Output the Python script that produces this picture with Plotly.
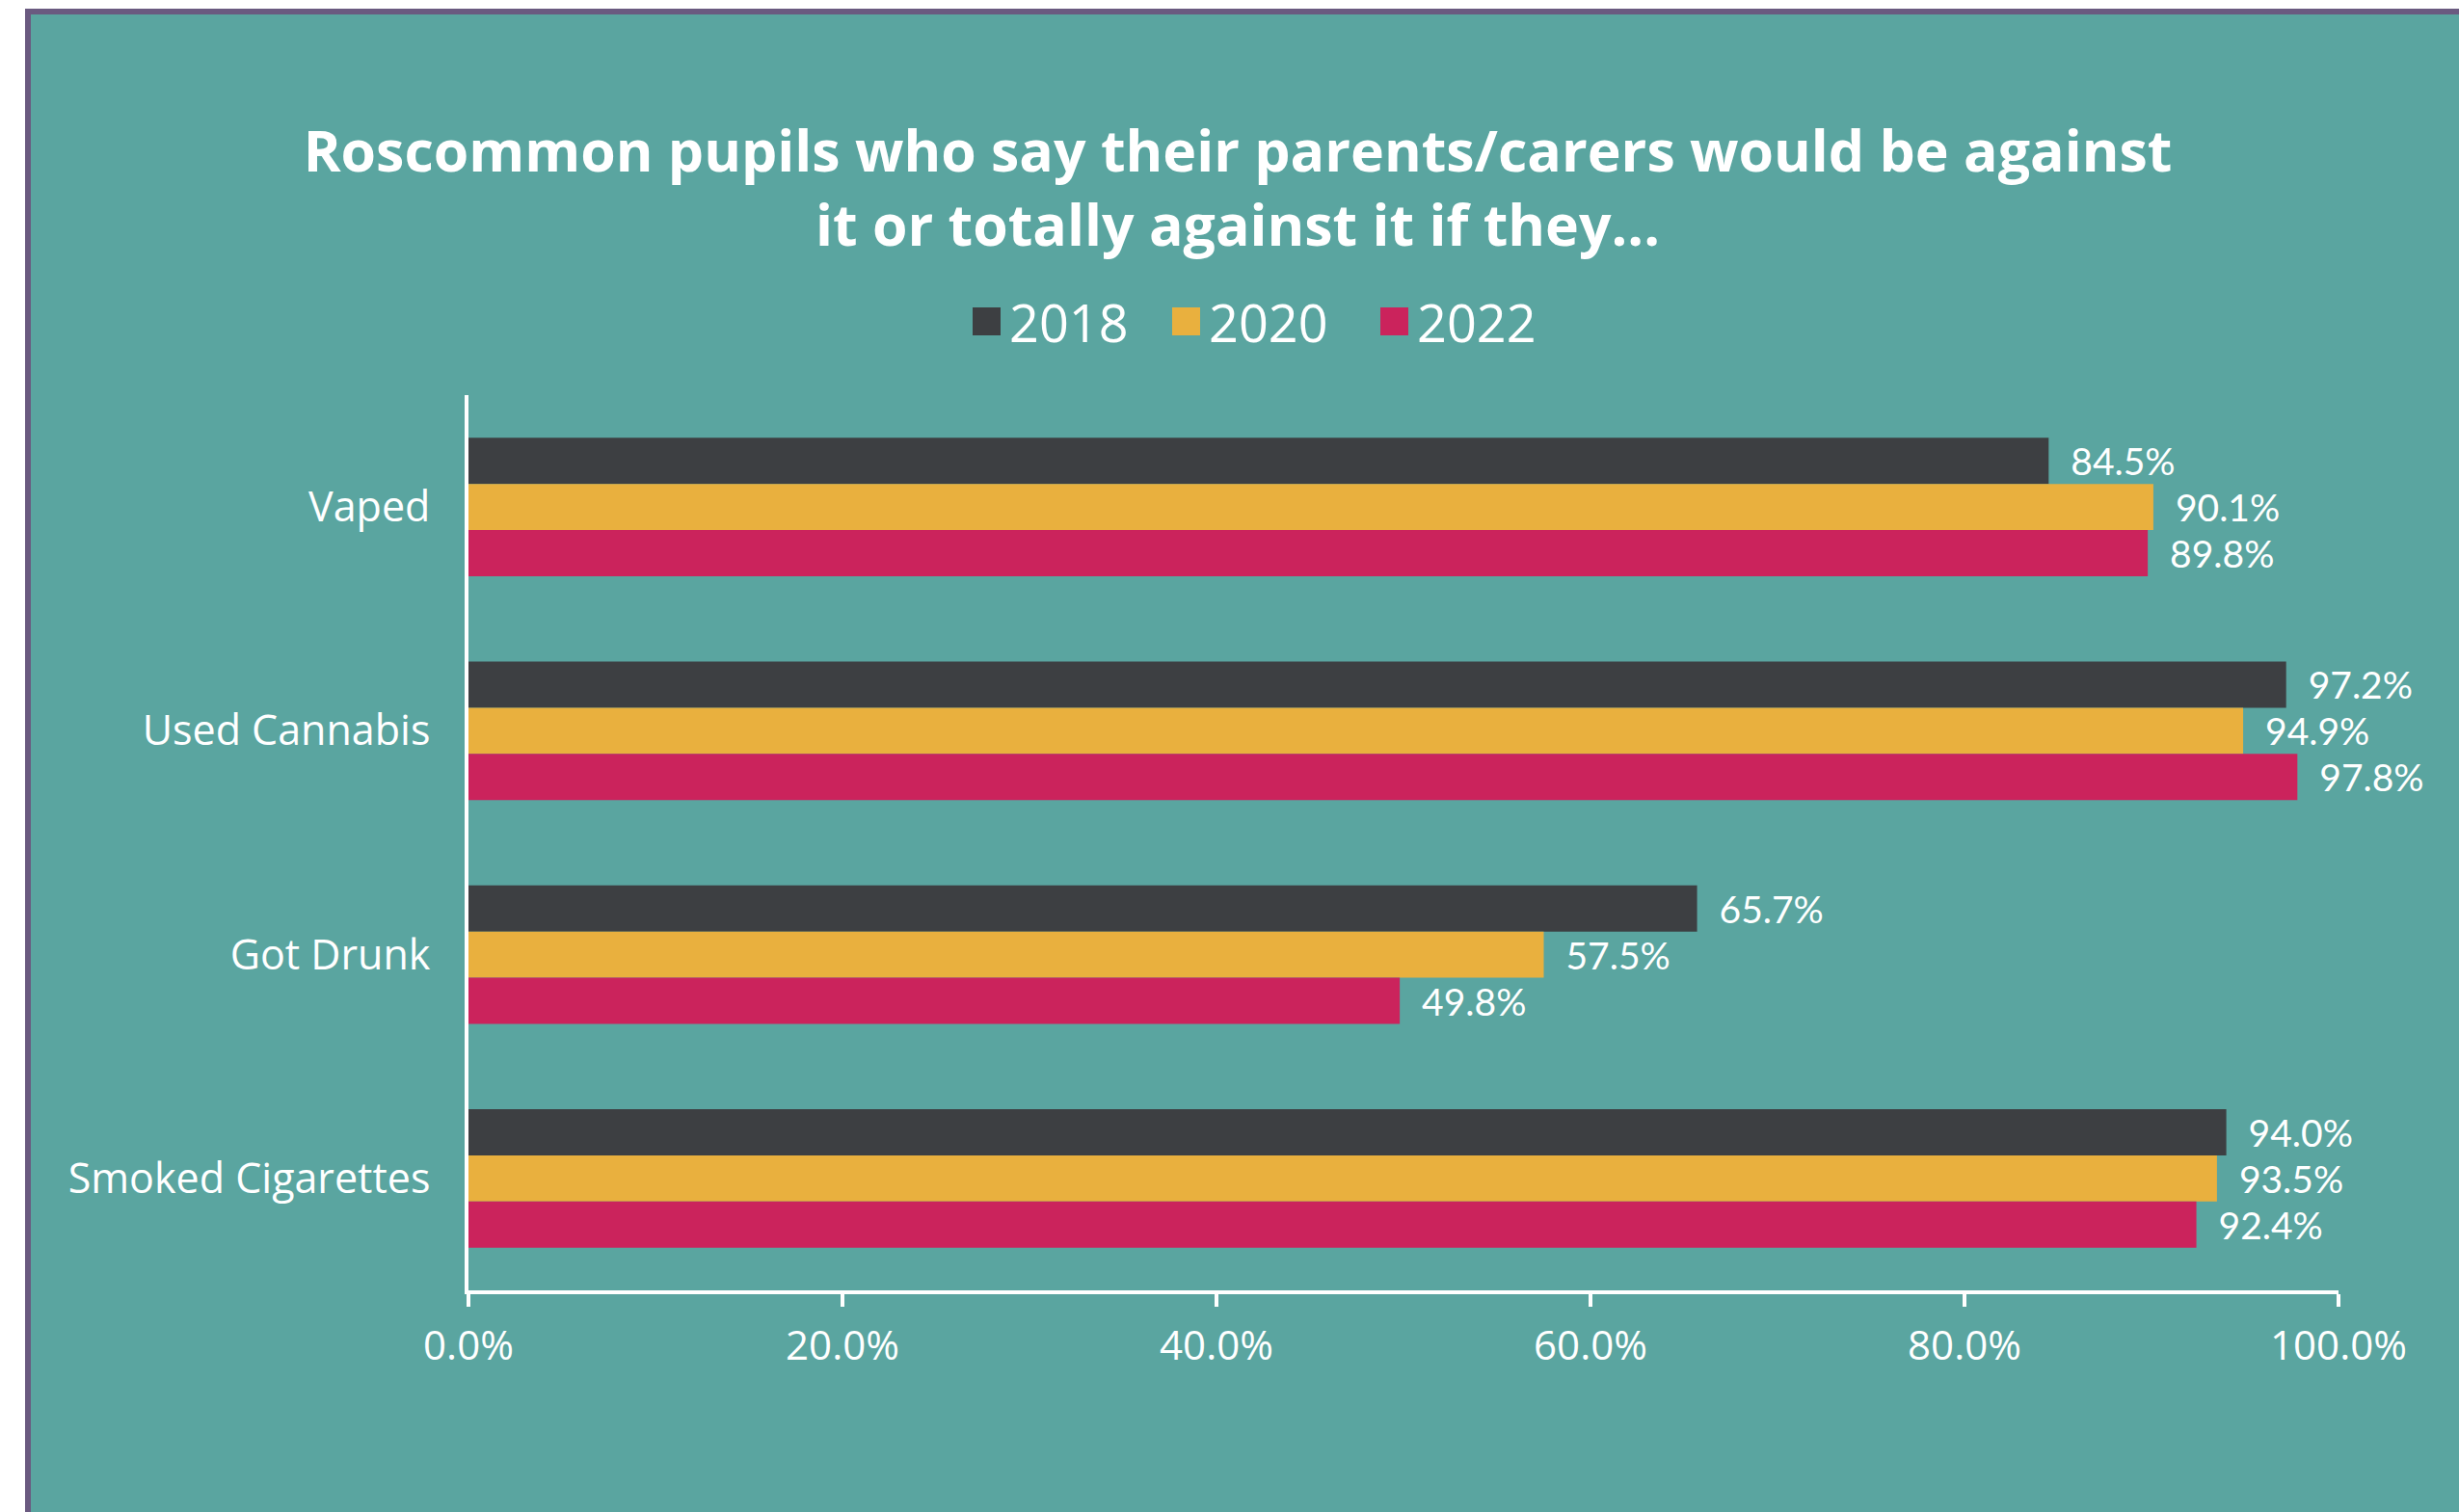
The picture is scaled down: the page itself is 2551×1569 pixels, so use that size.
import plotly.graph_objects as go

# Survey data: share of pupils whose parents/carers would be against it
categories = ["Vaped", "Used Cannabis", "Got Drunk", "Smoked Cigarettes"]
years = ["2018", "2020", "2022"]
values_2018 = [84.5, 97.2, 65.7, 94.0]
values_2020 = [90.1, 94.9, 57.5, 93.5]
values_2022 = [89.8, 97.8, 49.8, 92.4]
x_ticks = [0, 20, 40, 60, 80, 100]

series = [values_2018, values_2020, values_2022]
colors = ["#3d3f42", "#e9b03e", "#cb235c"]

W, H = 2551, 1569
M_L, M_R, M_T, M_B = 486, 125, 410, 230
PW, PH = W - M_L - M_R, H - M_T - M_B

TEAL = "#5aa5a0"
PURPLE = "#6a5a80"
FONT = "Open Sans"
LABEL_FONT = "Lato"


def px_x(p):
    """Figure pixel x -> paper coordinate."""
    return (p - M_L) / PW


def px_y(p):
    """Figure pixel y (from top) -> paper coordinate."""
    return 1 - (p - M_T) / PH


fig = go.Figure()
for year, vals, col in zip(years, series, colors):
    fig.add_trace(go.Bar(
        y=categories, x=vals, name=year, orientation="h",
        marker=dict(color=col, line=dict(width=0)),
        texttemplate="\u00a0\u00a0%{x:.1f}%", textposition="outside",
        textfont=dict(family=LABEL_FONT, size=39, color="white"),
        constraintext="none", cliponaxis=False, showlegend=False,
    ))

shapes = [
    # white page strips and purple frame lines
    dict(type="rect", xref="paper", yref="paper", x0=px_x(0), x1=px_x(W),
         y0=px_y(0), y1=px_y(9), fillcolor="white", line_width=0, layer="below"),
    dict(type="rect", xref="paper", yref="paper", x0=px_x(0), x1=px_x(26),
         y0=px_y(0), y1=px_y(H), fillcolor="white", line_width=0, layer="below"),
    dict(type="rect", xref="paper", yref="paper", x0=px_x(26), x1=px_x(W),
         y0=px_y(9), y1=px_y(15), fillcolor=PURPLE, line_width=0, layer="below"),
    dict(type="rect", xref="paper", yref="paper", x0=px_x(26), x1=px_x(32),
         y0=px_y(9), y1=px_y(H), fillcolor=PURPLE, line_width=0, layer="below"),
]

annotations = []
# custom legend: coloured squares followed by the year
legend_x = [1009, 1216, 1432]
for lx, year, col in zip(legend_x, years, colors):
    shapes.append(dict(type="rect", xref="paper", yref="paper",
                       x0=px_x(lx), x1=px_x(lx + 29), y0=px_y(348), y1=px_y(319),
                       fillcolor=col, line_width=0))
    annotations.append(dict(xref="paper", yref="paper", x=px_x(lx + 36), y=px_y(334),
                            xanchor="left", yanchor="middle", showarrow=False,
                            text=year, font=dict(family=FONT, size=54, color="white")))

fig.update_layout(
    width=W, height=H,
    margin=dict(l=M_L, r=M_R, t=M_T, b=M_B, autoexpand=False),
    paper_bgcolor=TEAL, plot_bgcolor=TEAL,
    barmode="group", bargap=0.38, bargroupgap=0,
    title=dict(
        text="Roscommon pupils who say their parents/carers would be against<br>it or totally against it if they...",
        x=1284 / W, xanchor="center", xref="container",
        y=1 - 178 / H, yanchor="middle", yref="container",
        font=dict(family=FONT, size=59, color="white", weight="bold"),
    ),
    xaxis=dict(
        range=[0, 100], tickvals=x_ticks, ticktext=[f"{v:.1f}%" for v in x_ticks],
        showgrid=False, zeroline=False, showline=True, linecolor="white", linewidth=4,
        ticks="outside", ticklen=13, tickwidth=4, tickcolor="white",
        ticklabelstandoff=5,
        tickfont=dict(family=FONT, size=42, color="white"),
    ),
    yaxis=dict(
        categoryorder="array", categoryarray=categories, autorange="reversed",
        showgrid=False, zeroline=False, showline=True, linecolor="white", linewidth=4,
        ticks="", ticklabelstandoff=27,
        tickfont=dict(family=FONT, size=43, color="white"),
    ),
    shapes=shapes, annotations=annotations,
)

fig.write_html("out.html")
